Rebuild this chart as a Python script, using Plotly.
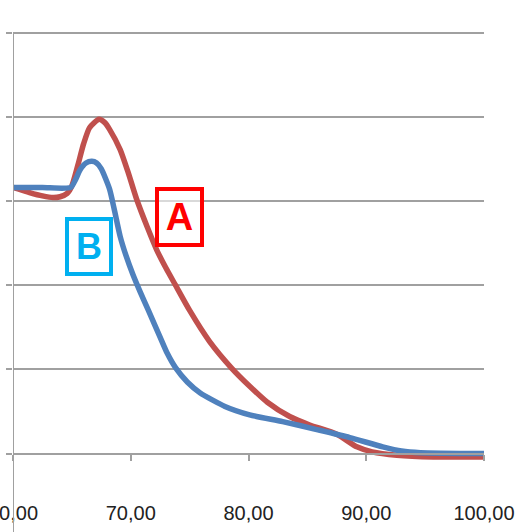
import plotly.graph_objects as go

# Series A (red)
a_x = [60.0, 61.4, 62.5, 63.4, 64.0, 64.6, 65.0, 65.5, 66.0, 66.5, 67.3, 67.8, 68.2,
       69.1, 69.8, 70.5, 71.4, 72.2, 73.0, 73.8, 75.0, 76.7, 78.6, 80.1, 81.6, 83.5,
       85.2, 87.5, 89.2, 90.5, 92.6, 95.7, 100.0]
a_y = [3.16, 3.10, 3.06, 3.04, 3.05, 3.09, 3.18, 3.42, 3.68, 3.87, 3.97, 3.93, 3.85,
       3.61, 3.33, 3.02, 2.69, 2.42, 2.20, 2.00, 1.70, 1.33, 1.01, 0.80, 0.61, 0.44,
       0.34, 0.23, 0.08, 0.02, -0.02, -0.04, -0.04]

# Series B (blue)
b_x = [60.0, 62.5, 64.9, 65.3, 65.7, 66.2, 66.7, 67.1, 67.5, 68.2, 68.6, 69.1, 69.6,
       70.2, 70.8, 71.5, 72.5, 73.1, 73.8, 74.8, 75.9, 78.0, 80.1, 82.9, 85.8, 88.6,
       91.4, 93.0, 94.6, 100.0]
b_y = [3.16, 3.16, 3.16, 3.25, 3.37, 3.45, 3.47, 3.45, 3.38, 3.14, 2.90, 2.58, 2.35,
       2.12, 1.92, 1.70, 1.38, 1.19, 1.02, 0.85, 0.72, 0.56, 0.46, 0.38, 0.285, 0.19,
       0.08, 0.03, 0.01, 0.0]

x_tickvals = [60, 70, 80, 90, 100]
x_ticktext = ["60,00", "70,00", "80,00", "90,00", "100,00"]
y_tickvals = [0, 1, 2, 3, 4, 5]

GRID = "#a0a0a0"
Y_MIN, Y_MAX = -0.1, 5.03

fig = go.Figure()
fig.add_trace(go.Scatter(x=a_x, y=a_y, mode="lines", name="A",
                         line=dict(color="#C0504D", width=5.5, shape="spline", smoothing=0.6)))
fig.add_trace(go.Scatter(x=b_x, y=b_y, mode="lines", name="B",
                         line=dict(color="#4F81BD", width=5.5, shape="spline", smoothing=0.6)))

fig.update_layout(
    width=516, height=532,
    margin=dict(l=13, r=32, t=30, b=70),
    paper_bgcolor="white", plot_bgcolor="white",
    showlegend=False,
    xaxis=dict(range=[60, 100], tickvals=x_tickvals, ticktext=x_ticktext,
               showgrid=False, zeroline=False, automargin=False,
               showline=True, linecolor=GRID, linewidth=2,
               ticks="outside", ticklen=6, tickwidth=2, tickcolor=GRID,
               anchor="free", position=(0 - Y_MIN) / (Y_MAX - Y_MIN),
               ticklabelstandoff=35, ticklabeloverflow="allow",
               tickfont=dict(family="Liberation Sans, Arial, sans-serif",
                             size=20, color="#222222")),
    yaxis=dict(range=[Y_MIN, Y_MAX], tickvals=y_tickvals, showticklabels=False,
               showgrid=True, gridcolor=GRID, gridwidth=2, zeroline=False,
               showline=False, automargin=False,
               ticks="outside", ticklen=6, tickwidth=2, tickcolor=GRID),
    shapes=[dict(type="line", xref="x", yref="paper", x0=60, x1=60, y0=-0.17, y1=1 - 0.03 / (Y_MAX - Y_MIN),
                 line=dict(color=GRID, width=2))],
    annotations=[
        dict(x=74.14, y=2.81, xref="x", yref="y", text="<b>A</b>", showarrow=False,
             font=dict(family="Liberation Sans, Arial, sans-serif", size=38, color="#FF0000"),
             bordercolor="#FF0000", borderwidth=4, borderpad=0,
             width=41, height=52, bgcolor="rgba(255,255,255,0.6)"),
        dict(x=66.45, y=2.46, xref="x", yref="y", text="<b>B</b>", showarrow=False,
             font=dict(family="Liberation Sans, Arial, sans-serif", size=36, color="#00B0F0"),
             bordercolor="#00B0F0", borderwidth=4, borderpad=0,
             width=40, height=51, bgcolor="rgba(255,255,255,0.6)"),
    ],
)

fig.write_html("out.html")
